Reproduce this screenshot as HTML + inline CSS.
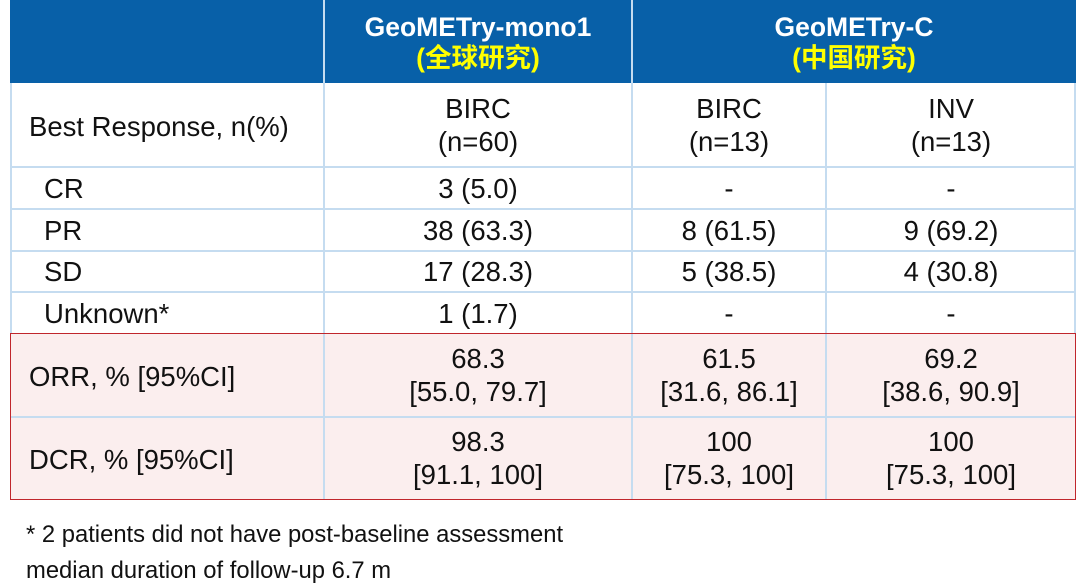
<!DOCTYPE html>
<html><head><meta charset="utf-8"><style>
body{margin:0;width:1080px;height:588px;background:#fff;position:relative;overflow:hidden;font-family:"Liberation Sans","Noto Sans CJK SC",sans-serif;color:#111}
.a{position:absolute}
.hl{position:absolute;height:2px;background:#c5dcf0}
.vl{position:absolute;width:2px;background:#c5dcf0}
.t{position:absolute;font-size:27.5px;line-height:33px;text-align:center}
.l{position:absolute;font-size:27.5px;line-height:33px}
.h{position:absolute;top:0;height:83px;background:#0860a8;color:#fff;font-weight:bold;font-size:26.5px;line-height:31px;text-align:center;padding-top:12px;box-sizing:border-box}
.y{color:#ffff00}
</style></head><body>
<div class="a" style="left:10px;top:0;width:1066px;height:83px;background:#0860a8"></div>
<div class="a" style="left:10px;top:334px;width:1066px;height:166px;background:#fbeeee"></div>
<div class="h" style="left:324px;width:308px">GeoMETry-mono1<br><span class="y">(全球研究)</span></div>
<div class="h" style="left:632px;width:444px">GeoMETry-C<br><span class="y">(中国研究)</span></div>
<div class="vl" style="left:323px;top:0;height:500px;background:#c5dcf0"></div>
<div class="vl" style="left:631px;top:0;height:500px"></div>
<div class="vl" style="left:825px;top:83px;height:417px"></div>
<div class="vl" style="left:10px;top:83px;height:251px"></div>
<div class="vl" style="left:1074px;top:83px;height:251px"></div>
<div class="hl" style="left:10px;top:166px;width:1066px"></div>
<div class="hl" style="left:10px;top:208px;width:1066px"></div>
<div class="hl" style="left:10px;top:250px;width:1066px"></div>
<div class="hl" style="left:10px;top:291px;width:1066px"></div>
<div class="hl" style="left:10px;top:416px;width:1066px"></div>
<div class="a" style="left:10px;top:333px;width:1064px;height:165px;border:1.5px solid #c0262c"></div>

<div class="l" style="left:29px;top:110px">Best Response, n(%)</div>
<div class="l" style="left:44px;top:172px">CR</div>
<div class="l" style="left:44px;top:214px">PR</div>
<div class="l" style="left:44px;top:255px">SD</div>
<div class="l" style="left:44px;top:297px">Unknown*</div>
<div class="l" style="left:29px;top:360px">ORR, % [95%CI]</div>
<div class="l" style="left:29px;top:443px">DCR, % [95%CI]</div>

<div class="t" style="left:324px;width:308px;top:92px">BIRC<br>(n=60)</div>
<div class="t" style="left:632px;width:194px;top:92px">BIRC<br>(n=13)</div>
<div class="t" style="left:826px;width:250px;top:92px">INV<br>(n=13)</div>

<div class="t" style="left:324px;width:308px;top:172px">3 (5.0)</div>
<div class="t" style="left:632px;width:194px;top:172px">-</div>
<div class="t" style="left:826px;width:250px;top:172px">-</div>
<div class="t" style="left:324px;width:308px;top:214px">38 (63.3)</div>
<div class="t" style="left:632px;width:194px;top:214px">8 (61.5)</div>
<div class="t" style="left:826px;width:250px;top:214px">9 (69.2)</div>
<div class="t" style="left:324px;width:308px;top:255px">17 (28.3)</div>
<div class="t" style="left:632px;width:194px;top:255px">5 (38.5)</div>
<div class="t" style="left:826px;width:250px;top:255px">4 (30.8)</div>
<div class="t" style="left:324px;width:308px;top:297px">1 (1.7)</div>
<div class="t" style="left:632px;width:194px;top:297px">-</div>
<div class="t" style="left:826px;width:250px;top:297px">-</div>

<div class="t" style="left:324px;width:308px;top:342px">68.3<br>[55.0, 79.7]</div>
<div class="t" style="left:632px;width:194px;top:342px">61.5<br>[31.6, 86.1]</div>
<div class="t" style="left:826px;width:250px;top:342px">69.2<br>[38.6, 90.9]</div>
<div class="t" style="left:324px;width:308px;top:425px">98.3<br>[91.1, 100]</div>
<div class="t" style="left:632px;width:194px;top:425px">100<br>[75.3, 100]</div>
<div class="t" style="left:826px;width:250px;top:425px">100<br>[75.3, 100]</div>

<div class="a" style="left:26px;top:520px;font-size:23.8px;line-height:30px">* 2 patients did not have post-baseline assessment</div>
<div class="a" style="left:26px;top:556px;font-size:23.8px;line-height:30px">median duration of follow-up 6.7 m</div>
</body></html>
